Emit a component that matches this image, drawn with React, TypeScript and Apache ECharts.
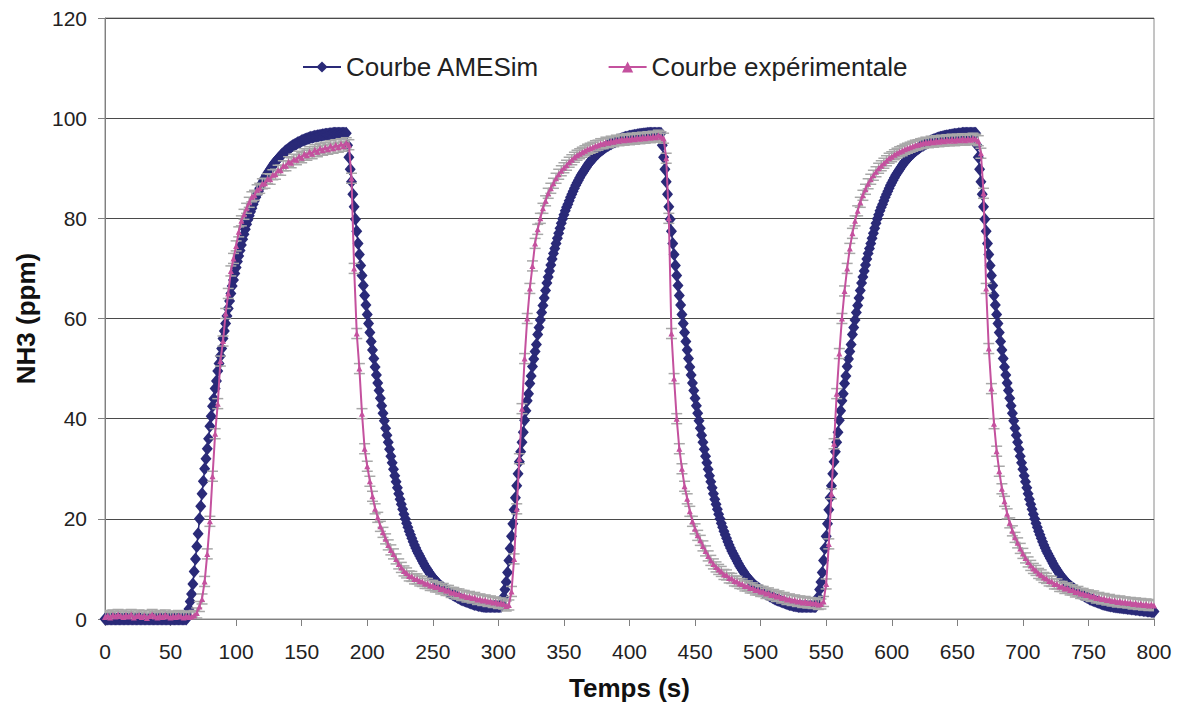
import React, { useEffect, useRef } from "react";
import * as echarts from "echarts";

// ---- AMESim simulation (1 value per second, t = 0 .. 800 s) ----
const AMESIM_STEP = 1;
const amesimIdle = [
  0, 0, 0, 0, 0, 0, 0, 0, 0, 0,
  0, 0, 0, 0, 0, 0, 0, 0, 0, 0,
  0, 0, 0, 0, 0, 0, 0, 0, 0, 0,
  0, 0, 0, 0, 0, 0, 0, 0, 0, 0,
  0, 0, 0, 0, 0, 0, 0, 0, 0, 0,
  0, 0, 0, 0, 0, 0, 0, 0, 0, 0,
  0, 0, 0,
];
const amesimRise1 = [
  0.5, 2, 3.5, 5, 7, 9.5, 12, 14.5, 17, 20,
  22.5, 25, 27.5, 30, 32, 34, 36, 38.5, 40.5, 42.5,
  44, 46, 47.5, 49.5, 51, 52.5, 54, 56, 57.5, 59,
  60.5, 62, 63.5, 65, 66.5, 67.7, 69, 70.2, 71.4, 72.5,
  73.6, 74.7, 75.8, 76.8, 77.8, 78.8, 79.7, 80.5, 81.3, 82,
  82.8, 83.5, 84.2, 84.8, 85.4, 86, 86.6, 87.1, 87.6, 88.1,
  88.6, 89, 89.4, 89.8, 90.2, 90.6, 91, 91.3, 91.6, 91.9,
  92.2, 92.5, 92.8, 93, 93.3, 93.5, 93.7, 93.9, 94.1, 94.3,
  94.5, 94.6, 94.8, 94.9, 95.1, 95.2, 95.3, 95.5, 95.6, 95.7,
  95.8, 95.9, 96, 96.1, 96.2, 96.2, 96.3, 96.4, 96.4, 96.5,
  96.5, 96.6, 96.6, 96.7, 96.7, 96.8, 96.8, 96.8, 96.9, 96.9,
  96.9, 97, 97, 97, 97, 97, 97, 97, 97, 97, 97,
];
const amesimFall1 = [
  97, 94.6, 92.2, 89.8, 87.3, 84.8, 82.3, 79.8, 77.4, 75,
  72.8, 70.6, 68.6, 66.6, 64.6, 62.7, 60.8, 59, 57.2, 55.4,
  53.7, 52, 50.3, 48.7, 47.1, 45.6, 44.1, 42.6, 41.1, 39.6,
  38.1, 36.7, 35.3, 33.9, 32.5, 31.2, 29.9, 28.6, 27.4, 26.2,
  25, 23.9, 22.9, 21.9, 20.9, 20, 19.1, 18.3, 17.5, 16.8,
  16.1, 15.4, 14.8, 14.2, 13.6, 13.1, 12.6, 12.1, 11.6, 11.1,
  10.6, 10.2, 9.8, 9.4, 9, 8.6, 8.3, 8, 7.7, 7.4,
  7.1, 6.8, 6.6, 6.4, 6.2, 6, 5.8, 5.6, 5.4, 5.2,
  5.1, 4.9, 4.8, 4.6, 4.5, 4.3, 4.2, 4, 3.9, 3.8,
  3.7, 3.6, 3.5, 3.4, 3.3, 3.2, 3.1, 3, 2.9, 2.9,
  2.8, 2.7, 2.7, 2.6, 2.6, 2.5, 2.5, 2.5, 2.5, 2.5,
  2.5, 2.5, 2.5, 2.5, 2.5, 2.5, 2.5, 2.5, 2.5,
];
const amesimRise2 = [
  3, 4.4, 5.9, 7.4, 9.3, 11.7, 14.1, 16.5, 19, 21.8,
  24.2, 26.6, 29, 31.4, 33.4, 35.3, 37.3, 39.7, 41.6, 43.6,
  45, 47, 48.5, 50.4, 51.9, 53.4, 54.8, 56.8, 58.2, 59.7,
  61.2, 62.6, 64.1, 65.6, 67.1, 68.3, 69.5, 70.7, 71.9, 73,
  74, 75, 76, 77, 78, 79, 79.9, 80.7, 81.5, 82.2,
  82.8, 83.5, 84.2, 84.8, 85.4, 86, 86.6, 87.1, 87.6, 88.1,
  88.6, 89, 89.4, 89.8, 90.2, 90.6, 91, 91.3, 91.6, 91.9,
  92.2, 92.5, 92.8, 93, 93.3, 93.5, 93.7, 93.9, 94.1, 94.3,
  94.5, 94.6, 94.8, 94.9, 95.1, 95.2, 95.3, 95.5, 95.6, 95.7,
  95.8, 95.9, 96, 96.1, 96.2, 96.2, 96.3, 96.4, 96.4, 96.5,
  96.5, 96.6, 96.6, 96.7, 96.7, 96.8, 96.8, 96.8, 96.9, 96.9,
  96.9, 97, 97, 97, 97, 97, 97, 97, 97, 97, 97,
];
const amesimFall2 = [
  97, 94.6, 92.2, 89.8, 87.3, 84.8, 82.3, 79.8, 77.4, 75,
  72.8, 70.6, 68.6, 66.6, 64.6, 62.7, 60.8, 59, 57.2, 55.4,
  53.7, 52, 50.3, 48.7, 47.1, 45.6, 44.1, 42.6, 41.1, 39.6,
  38.1, 36.7, 35.3, 33.9, 32.5, 31.2, 29.9, 28.6, 27.4, 26.2,
  25, 23.9, 22.9, 21.9, 20.9, 20, 19.1, 18.3, 17.5, 16.8,
  16.1, 15.4, 14.8, 14.2, 13.6, 13.1, 12.6, 12.1, 11.6, 11.1,
  10.6, 10.2, 9.8, 9.4, 9, 8.6, 8.3, 8, 7.7, 7.4,
  7.1, 6.8, 6.6, 6.4, 6.2, 6, 5.8, 5.6, 5.4, 5.2,
  5.1, 4.9, 4.8, 4.6, 4.5, 4.3, 4.2, 4, 3.9, 3.8,
  3.7, 3.6, 3.5, 3.4, 3.3, 3.2, 3.1, 3, 2.9, 2.9,
  2.8, 2.7, 2.7, 2.6, 2.6, 2.5, 2.5, 2.5, 2.5, 2.5,
  2.5, 2.5, 2.5, 2.5, 2.5, 2.5, 2.5, 2.5, 2.5,
];
const amesimRise3 = [
  3, 4.4, 5.9, 7.4, 9.3, 11.7, 14.1, 16.5, 19, 21.8,
  24.2, 26.6, 29, 31.4, 33.4, 35.3, 37.3, 39.7, 41.6, 43.6,
  45, 47, 48.5, 50.4, 51.9, 53.4, 54.8, 56.8, 58.2, 59.7,
  61.2, 62.6, 64.1, 65.6, 67.1, 68.3, 69.5, 70.7, 71.9, 73,
  74, 75, 76, 77, 78, 79, 79.9, 80.7, 81.5, 82.2,
  82.8, 83.5, 84.2, 84.8, 85.4, 86, 86.6, 87.1, 87.6, 88.1,
  88.6, 89, 89.4, 89.8, 90.2, 90.6, 91, 91.3, 91.6, 91.9,
  92.2, 92.5, 92.8, 93, 93.3, 93.5, 93.7, 93.9, 94.1, 94.3,
  94.5, 94.6, 94.8, 94.9, 95.1, 95.2, 95.3, 95.5, 95.6, 95.7,
  95.8, 95.9, 96, 96.1, 96.2, 96.2, 96.3, 96.4, 96.4, 96.5,
  96.5, 96.6, 96.6, 96.7, 96.7, 96.8, 96.8, 96.8, 96.9, 96.9,
  96.9, 97, 97, 97, 97, 97, 97, 97, 97, 97, 97,
];
const amesimFall3 = [
  97, 94.6, 92.2, 89.8, 87.3, 84.8, 82.3, 79.8, 77.4, 75,
  72.8, 70.6, 68.6, 66.6, 64.6, 62.7, 60.8, 59, 57.2, 55.4,
  53.7, 52, 50.3, 48.7, 47.1, 45.6, 44.1, 42.6, 41.1, 39.6,
  38.1, 36.7, 35.3, 33.9, 32.5, 31.2, 29.9, 28.6, 27.4, 26.2,
  25, 23.9, 22.9, 21.9, 20.9, 20, 19.1, 18.3, 17.5, 16.8,
  16.1, 15.4, 14.8, 14.2, 13.6, 13.1, 12.6, 12.1, 11.6, 11.1,
  10.6, 10.2, 9.8, 9.4, 9, 8.6, 8.3, 8, 7.7, 7.4,
  7.1, 6.8, 6.6, 6.4, 6.2, 6, 5.8, 5.6, 5.4, 5.2,
  5.1, 4.9, 4.8, 4.6, 4.5, 4.3, 4.2, 4, 3.9, 3.8,
  3.7, 3.6, 3.5, 3.4, 3.3, 3.2, 3.1, 3, 2.9, 2.9,
  2.8, 2.7, 2.7, 2.6, 2.6, 2.5, 2.5, 2.4, 2.4, 2.4,
  2.3, 2.3, 2.3, 2.2, 2.2, 2.2, 2.1, 2.1, 2.1, 2,
  2, 2, 1.9, 1.9, 1.9, 1.8, 1.8, 1.8, 1.7, 1.7,
  1.7, 1.6, 1.6, 1.6, 1.5, 1.5, 1.5,
];

// ---- Experimental curve (1 value every 2 s, t = 0 .. 800 s) ----
const EXP_STEP = 2;
const expIdle = [
  0.4, 0.7, 0.3, 0.8, 0.5, 0.9, 0.6, 0.4, 0.8, 0.5,
  0.9, 0.3, 0.6, 0.8, 0.4, 0.7, 0.2, 0.6, 0.9, 0.5,
  0.3, 0.7, 0.4, 0.8, 0.5, 0.3, 0.6, 0.4, 0.7, 0.5,
  0.3, 0.6, 0.4, 0.5, 0.7,
];
const expRise1 = [
  1.2, 2.5, 4, 7.5, 13, 19.5, 28.5, 37, 43, 51.5,
  55.5, 61, 65, 69.5, 72, 74.5, 77.3, 79.5, 80.8, 82,
  83.2, 84.3, 84.6, 85.7, 86, 86.9, 87, 87.9, 87.8, 88.7,
  88.8, 89.6, 89.6, 90.5, 90.5, 91.3, 91.1, 91.8, 91.7, 92.4,
  92.1, 92.9, 92.6, 93.3, 92.9, 93.7, 93.3, 94, 93.6, 94.2,
  93.8, 94.5, 94, 94.7, 94.2, 94.9, 94.4, 95.1, 94.7,
];
const expFall1 = [
  88, 70, 57, 50, 41, 34, 30.5, 27.5, 24.5, 22,
  20.3, 18.5, 17.3, 16, 14.8, 13.8, 13, 12, 11, 10.3,
  9.6, 9.2, 8.6, 8.5, 8, 8, 7.6, 7.5, 7.1, 7.1,
  6.7, 6.7, 6.4, 6.4, 6, 6.1, 5.7, 5.7, 5.3, 5.3,
  5, 5, 4.7, 4.7, 4.4, 4.5, 4.2, 4.3, 3.9, 4,
  3.7, 3.8, 3.5, 3.6, 3.3, 3.4, 3.1, 3.2, 3, 2.6,
  2.8,
];
const expRise2 = [
  5.5, 12, 22, 32, 42, 52, 60, 66, 70.5, 75,
  77.8, 80, 82, 83.5, 85, 86, 87, 88, 88.8, 89.5,
  90.1, 90.6, 91.2, 91.7, 92.2, 92.6, 92.9, 93.2, 93.5, 93.8,
  94, 94.2, 94.5, 94.6, 94.9, 94.9, 95.2, 95.1, 95.4, 95.3,
  95.6, 95.5, 95.8, 95.6, 95.9, 95.7, 96, 95.8, 96.1, 95.9,
  96.2, 96, 96.3, 96.1, 96.4, 96.2, 96.6, 96.3,
];
const expFall2 = [
  96, 92, 80, 57, 48, 40, 34, 30, 26.5, 24,
  21.5, 19.5, 18, 16.7, 15.7, 14.6, 13.6, 12.6, 11.7, 11,
  10.4, 9.9, 9.5, 8.9, 8.8, 8.2, 8.1, 7.6, 7.5, 7.1,
  7, 6.6, 6.6, 6.2, 6.2, 5.8, 5.8, 5.5, 5.5, 5.1,
  5.2, 4.8, 4.9, 4.5, 4.6, 4.2, 4.3, 3.9, 4, 3.7,
  3.8, 3.5, 3.6, 3.3, 3.5, 3.2, 3.3, 3.1, 3.2, 2.9,
  3,
];
const expRise3 = [
  3.5, 7, 15, 25, 35, 45, 53, 60, 65.5, 70,
  74, 77, 79.5, 81.5, 83.2, 84.6, 85.8, 86.9, 87.8, 88.6,
  89.3, 90, 90.5, 91, 91.5, 92, 92.3, 92.7, 93, 93.3,
  93.5, 93.8, 94, 94.2, 94.4, 94.6, 94.7, 94.9, 95, 95.2,
  95.1, 95.4, 95.2, 95.5, 95.3, 95.6, 95.4, 95.7, 95.5, 95.8,
  95.5, 95.8, 95.6, 95.9, 95.6, 95.9, 95.7, 96, 95.8,
];
const expFall3 = [
  95.5, 93, 85, 66, 54, 46, 39, 33.5, 29.5, 26,
  23.5, 21, 19.2, 17.6, 16.3, 15.2, 14.1, 13.1, 12.2, 11.4,
  10.7, 10.1, 9.7, 9.1, 8.8, 8.3, 8.1, 7.6, 7.5, 7,
  7, 6.5, 6.5, 6.1, 6.2, 5.8, 5.8, 5.4, 5.5, 5.1,
  5.1, 4.8, 4.8, 4.5, 4.6, 4.2, 4.3, 4, 4.1, 3.8,
  3.9, 3.6, 3.7, 3.4, 3.6, 3.3, 3.4, 3.2, 3.3, 3,
  3.2, 2.9, 3.1, 2.8, 3, 2.7, 2.9, 2.7,
];
const EXP_ERROR = 1.0;

const seriesNames = ["Courbe AMESim", "Courbe expérimentale"];
const xTicks = { min: 0, max: 800, interval: 50 };
const yTicks = { min: 0, max: 120, interval: 20 };
const xAxisTitle = "Temps (s)";
const yAxisTitle = "NH3 (ppm)";

const amesimValues = [
  ...amesimIdle, ...amesimRise1, ...amesimFall1,
  ...amesimRise2, ...amesimFall2, ...amesimRise3, ...amesimFall3,
];
const expValues = [
  ...expIdle, ...expRise1, ...expFall1,
  ...expRise2, ...expFall2, ...expRise3, ...expFall3,
];

const FONT = "Arial, 'Liberation Sans', Helvetica, sans-serif";
const NAVY = "#2A2A78";
const PINK = "#C4519E";

export default function App() {
  const ref = useRef<HTMLDivElement>(null);
  useEffect(() => {
    if (!ref.current) return;
    const chart = echarts.init(ref.current, null, { renderer: "svg" });
    const amesimData = amesimValues.map((v, i) => [i * AMESIM_STEP, v]);
    const expData = expValues.map((v, i) => [i * EXP_STEP, v]);

    chart.setOption({
      animation: false,
      backgroundColor: "#ffffff",
      textStyle: { fontFamily: FONT },
      grid: {
        left: 105,
        right: 25,
        top: 18,
        bottom: 94,
        show: true,
        borderColor: "#8a8a8a",
        borderWidth: 1,
        containLabel: false,
      },
      legend: {
        data: seriesNames,
        top: 49,
        left: 297,
        itemWidth: 38,
        itemHeight: 14,
        itemGap: 68,
        textStyle: { fontSize: 26, color: "#222", fontFamily: FONT },
      },
      xAxis: {
        type: "value",
        min: xTicks.min,
        max: xTicks.max,
        interval: xTicks.interval,
        name: xAxisTitle,
        nameLocation: "middle",
        nameGap: 56,
        nameTextStyle: { fontSize: 26, fontWeight: "bold", color: "#111", fontFamily: FONT },
        axisLine: { lineStyle: { color: "#808080", width: 1 } },
        axisTick: { show: true, length: 7, lineStyle: { color: "#808080" } },
        axisLabel: { fontSize: 21, margin: 22, color: "#222", fontFamily: FONT },
        splitLine: { show: false },
      },
      yAxis: {
        type: "value",
        min: yTicks.min,
        max: yTicks.max,
        interval: yTicks.interval,
        name: yAxisTitle,
        nameLocation: "middle",
        nameGap: 66,
        nameRotate: 90,
        nameTextStyle: { fontSize: 26, fontWeight: "bold", color: "#111", fontFamily: FONT },
        axisLine: { show: true, lineStyle: { color: "#808080", width: 1 } },
        axisTick: { show: true, length: 7, lineStyle: { color: "#808080" } },
        axisLabel: { fontSize: 21, margin: 18, color: "#222", fontFamily: FONT },
        splitLine: { show: true, lineStyle: { color: "#4a4a4a", width: 1 } },
      },
      series: [
        {
          name: seriesNames[0],
          type: "line",
          data: amesimData,
          symbol: "diamond",
          symbolSize: [11, 13],
          showAllSymbol: true,
          itemStyle: { color: NAVY },
          lineStyle: { color: NAVY, width: 1.5 },
          z: 2,
        },
        {
          name: "errors",
          type: "custom",
          data: expData,
          z: 3,
          silent: true,
          clip: true,
          renderItem: (params: any, api: any) => {
            const x = api.value(0);
            const y = api.value(1);
            const top = api.coord([x, y + EXP_ERROR]);
            const bot = api.coord([x, y - EXP_ERROR]);
            const style = { stroke: "#A8A8A8", lineWidth: 1.5 };
            return {
              type: "group",
              children: [
                { type: "line", shape: { x1: top[0], y1: top[1], x2: bot[0], y2: bot[1] }, style },
                { type: "line", shape: { x1: top[0] - 5.5, y1: top[1], x2: top[0] + 5.5, y2: top[1] }, style },
                { type: "line", shape: { x1: bot[0] - 5.5, y1: bot[1], x2: bot[0] + 5.5, y2: bot[1] }, style },
              ],
            };
          },
        },
        {
          name: seriesNames[1],
          type: "line",
          data: expData,
          symbol: "triangle",
          symbolSize: 6,
          showAllSymbol: true,
          itemStyle: { color: PINK },
          lineStyle: { color: PINK, width: 2 },
          z: 4,
        },
      ],
    });
    return () => chart.dispose();
  }, []);
  return (
    <div
      ref={ref}
      style={{ position: "fixed", left: 0, top: 0, width: 1179, height: 713, background: "#fff" }}
    />
  );
}
